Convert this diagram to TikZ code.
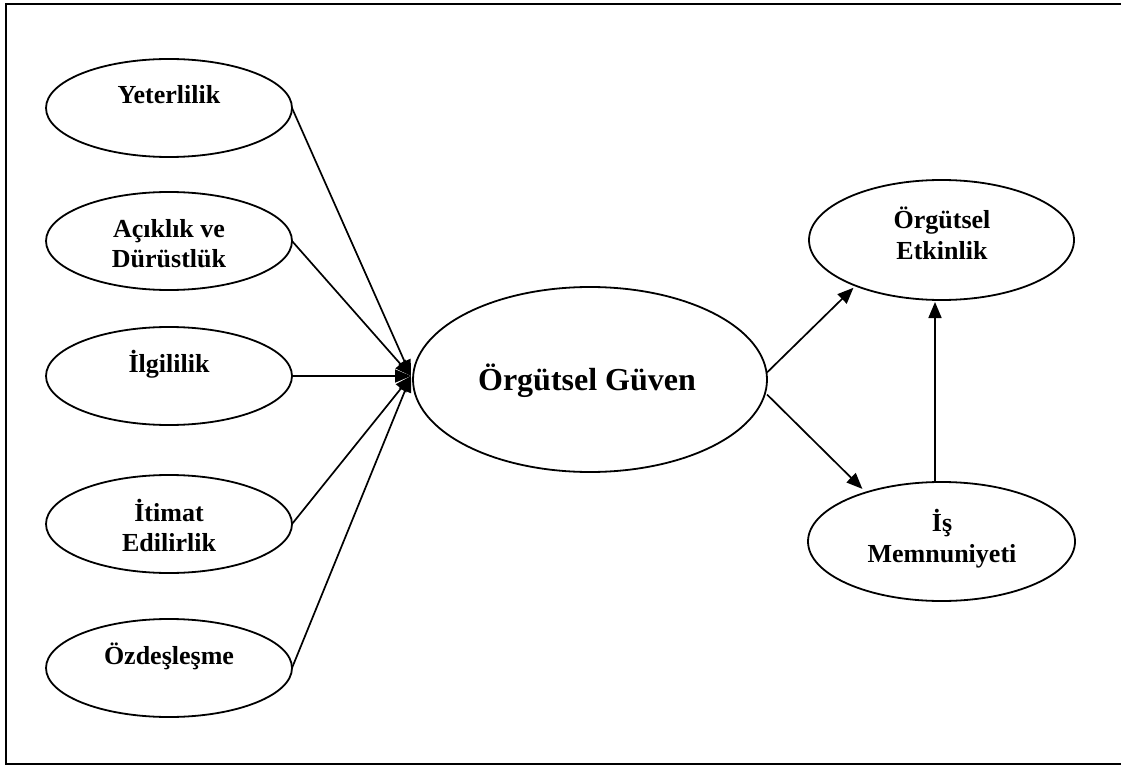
\documentclass[tikz,border=0pt]{standalone}
\usepackage{fontspec}
\setmainfont{Liberation Serif}
\usetikzlibrary{arrows.meta,calc,shapes.geometric}
\begin{document}
\begin{tikzpicture}[x=1pt,y=-1pt,
  oval/.style={draw,ellipse,line width=1.8pt,inner sep=0pt,outer sep=0pt},
  small/.style={oval,minimum width=246pt,minimum height=98pt},
  lbl/.style={font=\bfseries\fontsize{26}{30}\selectfont,align=center,anchor=base,inner sep=0pt},
  rlbl/.style={font=\bfseries\fontsize{26}{31}\selectfont,align=center,anchor=base,inner sep=0pt},
  conn/.style={line width=1.7pt,-{Triangle[length=16pt,width=13pt]}},
]
\useasboundingbox (0,0) rectangle (1121,767);
\clip (0,0) rectangle (1121,767);
\draw[line width=2.6pt] (6,4) rectangle (1140,764);

% left ellipses
\node[small] (yet) at (169,108) {};
\node[lbl] (yett) at (169,104) {Yeterlilik};
\node[small] (acik) at (169,241) {};
\node[lbl] (acikt) at (169,268) {Açıklık ve\\Dürüstlük};
\node[small] (ilg) at (169,376) {};
\node[lbl] (ilgt) at (169,372) {İlgililik};
\node[small] (itm) at (169,524) {};
\node[lbl] (itmt) at (169,551) {İtimat\\Edilirlik};
\node[small] (ozd) at (169,668) {};
\node[lbl] (ozdt) at (169,664) {Özdeşleşme};

% central ellipse
\node[oval,minimum width=354pt,minimum height=185pt] (cg) at (590,379.5) {};
\node[font=\bfseries\fontsize{32}{38}\selectfont,anchor=base,inner sep=0pt] (cgt) at (587,390) {Örgütsel Güven};

% right ellipses
\node[oval,minimum width=265pt,minimum height=120pt] (oe) at (941.5,240) {};
\node[rlbl] (oet) at (942,260) {Örgütsel\\Etkinlik};
\node[oval,minimum width=267pt,minimum height=119pt] (im) at (941.5,541.5) {};
\node[rlbl] (imt) at (942,562) {İş\\Memnuniyeti};

% converging arrows
\coordinate (hub) at (411,376);
\draw[conn] (yet.east) -- (hub);
\draw[conn] (acik.east) -- (hub);
\draw[conn] (ilg.east) -- (hub);
\draw[conn] (itm.east) -- (hub);
\draw[conn] (ozd.east) -- (hub);

% outgoing arrows
\draw[conn,shorten >=3pt] ([yshift=7pt]cg.east) -- (oe.208);
\draw[conn,shorten >=5pt] ([yshift=-15pt]cg.east) -- (im.147);
\draw[conn,shorten >=2pt] ([xshift=-6.5pt]im.north) -- ([xshift=-6.5pt]oe.south);
\end{tikzpicture}
\end{document}
